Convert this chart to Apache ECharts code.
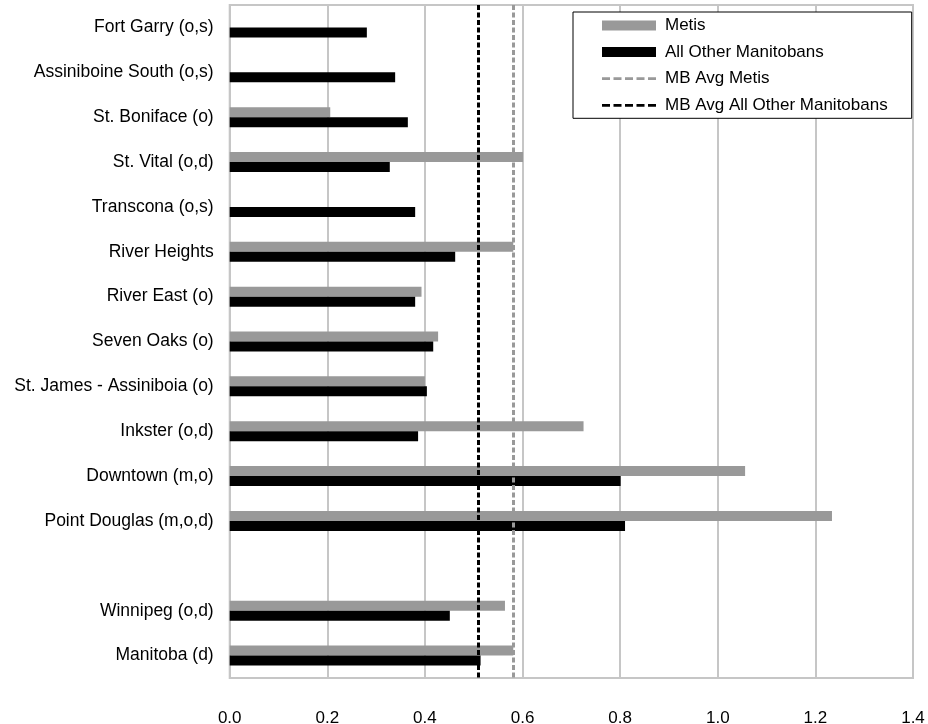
<!DOCTYPE html>
<html>
<head>
<meta charset="utf-8">
<script src="https://cdn.jsdelivr.net/npm/echarts@6/dist/echarts.min.js"></script>
<style>
html,body{margin:0;padding:0;background:#fff;}
#chart{width:928px;height:724px;}
</style>
</head>
<body>
<div id="chart"></div>
<script>
const categories = ['Fort Garry (o,s)', 'Assiniboine South (o,s)', 'St. Boniface (o)', 'St. Vital (o,d)', 'Transcona (o,s)', 'River Heights', 'River East (o)', 'Seven Oaks (o)', 'St. James - Assiniboia (o)', 'Inkster (o,d)', 'Downtown (m,o)', 'Point Douglas (m,o,d)', '', 'Winnipeg (o,d)', 'Manitoba (d)'];
const metis = [null, null, 0.206, 0.601, null, 0.581, 0.393, 0.427, 0.400, 0.725, 1.056, 1.234, null, 0.564, 0.581];
const others = [0.281, 0.339, 0.365, 0.328, 0.380, 0.462, 0.380, 0.417, 0.404, 0.386, 0.801, 0.810, null, 0.451, 0.514];
const mbAvgMetis = 0.581;
const mbAvgOther = 0.513;
const xTicks = {min: 0, max: 1.4, interval: 0.2};

const FONT = 'Liberation Sans';
// dashed-line legend icon (5 dashes, thin, vertically centred in the icon box)
const dashIcon = 'path://M0,0L0.01,0L0.01,0.01Z M0,10L0.01,10L0.01,9.99Z ' +
  'M0,3.6H8V6.4H0Z M11.5,3.6H19.5V6.4H11.5Z M23,3.6H31V6.4H23Z M34.5,3.6H42.5V6.4H34.5Z M46,3.6H54V6.4H46Z';

const chart = echarts.init(document.getElementById('chart'));
chart.setOption({
  animation: false,
  textStyle: {fontFamily: FONT},
  grid: {left: 229.7, right: 15, top: 5, bottom: 46, show: true, borderColor: '#c6c6c6', borderWidth: 2,
    containLabel: false, outerBoundsMode: 'none'},
  legend: {
    orient: 'vertical',
    left: 573, top: 12,
    padding: [5, 24, 4.5, 29],
    itemWidth: 54, itemHeight: 10, itemGap: 9.6,
    backgroundColor: '#fff',
    borderColor: '#000', borderWidth: 1,
    textStyle: {fontFamily: FONT, fontSize: 17, color: '#000', padding: [0, 0, 0, 4], lineHeight: 16},
    data: [
      {name: 'Metis', icon: 'rect'},
      {name: 'All Other Manitobans', icon: 'rect'},
      {name: 'MB Avg Metis', icon: dashIcon},
      {name: 'MB Avg All Other Manitobans', icon: dashIcon}
    ]
  },
  xAxis: {
    type: 'value', min: xTicks.min, max: xTicks.max, interval: xTicks.interval,
    axisLine: {show: false}, axisTick: {show: false},
    splitLine: {show: true, lineStyle: {color: '#c6c6c6', width: 2}},
    axisLabel: {fontFamily: FONT, fontSize: 17, color: '#000', margin: 32, formatter: v => v.toFixed(1)}
  },
  yAxis: {
    type: 'category', data: categories, inverse: true,
    axisLine: {show: true, lineStyle: {color: '#c6c6c6', width: 2}},
    axisTick: {show: false},
    axisLabel: {fontFamily: FONT, fontSize: 17.5, color: '#000', margin: 16, padding: [9, 0, 0, 0]}
  },
  series: [
    {name: 'Metis', type: 'bar', data: metis, barWidth: 10, barGap: '0%', itemStyle: {color: '#999999'}},
    {name: 'All Other Manitobans', type: 'bar', data: others, barWidth: 10, barGap: '0%', itemStyle: {color: '#000000'}},
    {name: 'MB Avg Metis', type: 'line', data: [], symbol: 'none',
      itemStyle: {color: '#999999'},
      lineStyle: {color: '#999999', width: 3, type: [5, 2.5]},
      markLine: {silent: true, symbol: 'none', label: {show: false},
        lineStyle: {color: '#999999', width: 3, type: [5, 2.5]},
        data: [{xAxis: mbAvgMetis}]}},
    {name: 'MB Avg All Other Manitobans', type: 'line', data: [], symbol: 'none',
      itemStyle: {color: '#000000'},
      lineStyle: {color: '#000000', width: 3, type: [5, 2.5]},
      markLine: {silent: true, symbol: 'none', label: {show: false},
        lineStyle: {color: '#000000', width: 3, type: [5, 2.5]},
        data: [{xAxis: mbAvgOther}]}}
  ]
});
</script>
</body>
</html>
